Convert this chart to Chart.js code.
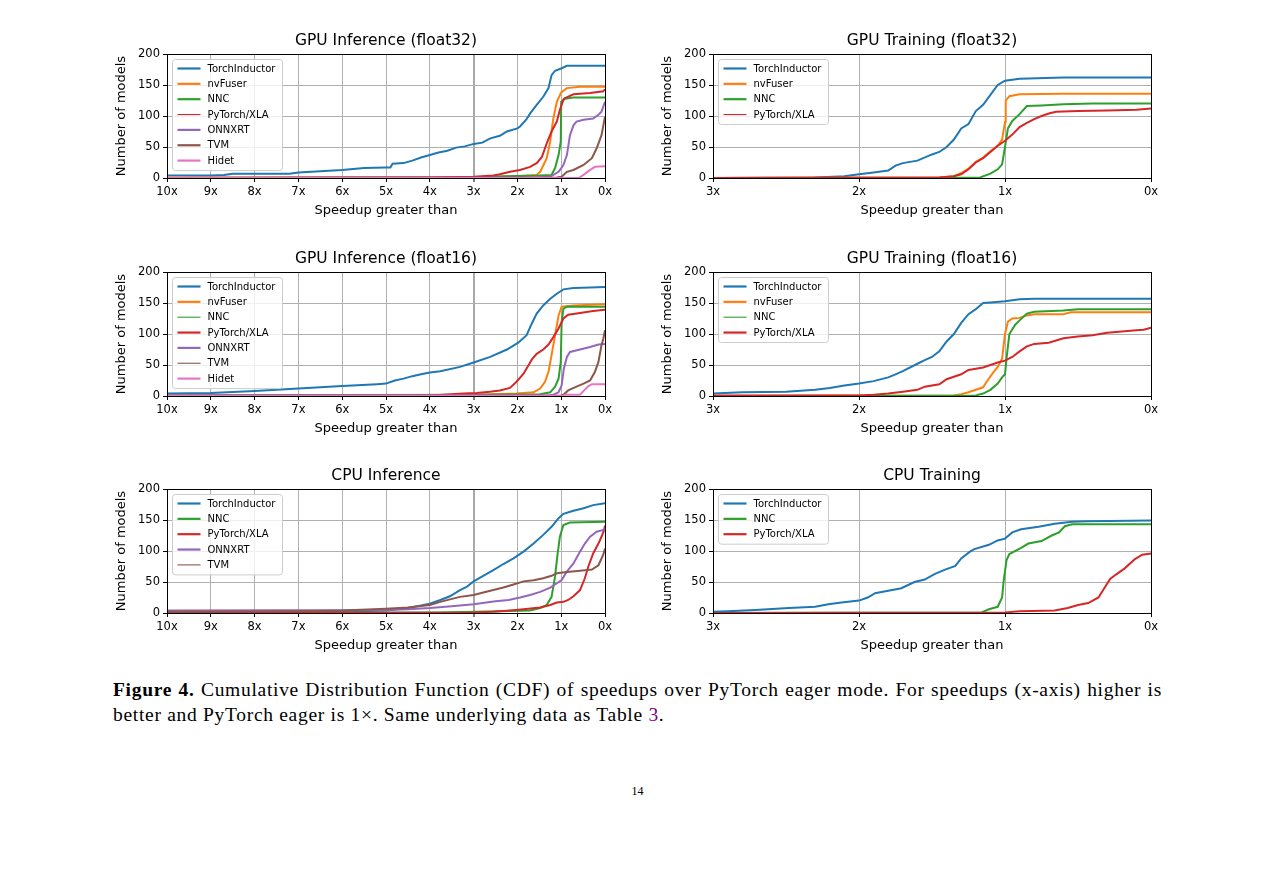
<!DOCTYPE html>
<html><head><meta charset="utf-8">
<script src="https://cdn.jsdelivr.net/npm/chart.js@4.4.0/dist/chart.umd.min.js"></script>
<style>
html,body{margin:0;padding:0;background:#fff;width:1275px;height:890px;overflow:hidden}
body{position:relative}
canvas{position:absolute}
#cap{position:absolute;left:113px;top:677px;width:1049px;font-family:'Liberation Serif','DejaVu Serif',serif;font-size:19.5px;letter-spacing:0.7px;line-height:25px;color:#000}
#cap .l1{text-align:justify;text-align-last:justify;white-space:nowrap;display:block}
#cap a{color:#800080;text-decoration:none}
#pg{position:absolute;left:0;width:1275px;top:784px;text-align:center;font-family:'Liberation Serif','DejaVu Serif',serif;font-size:12px;color:#000}
</style></head><body>
<canvas id="c1" width="520" height="195" style="left:100px;top:30px"></canvas>
<canvas id="c2" width="520" height="195" style="left:646px;top:30px"></canvas>
<canvas id="c3" width="520" height="195" style="left:100px;top:248px"></canvas>
<canvas id="c4" width="520" height="195" style="left:646px;top:248px"></canvas>
<canvas id="c5" width="520" height="195" style="left:100px;top:465px"></canvas>
<canvas id="c6" width="520" height="195" style="left:646px;top:465px"></canvas>
<div id="cap"><div class="l1"><b>Figure 4.</b> Cumulative Distribution Function (CDF) of speedups over PyTorch eager mode. For speedups (x-axis) higher is</div>better and PyTorch eager is 1×. Same underlying data as Table <a>3</a>.</div>
<div id="pg">14</div>
<script>
// ---- Data: [speedup, number of models] ----
// GPU Inference (float32)
const A_TorchInductor = [[10,4],[9,4],[8.7,5],[8.5,7],[7.2,7],[7.0,9],[6.5,11],[6.0,13],[5.5,16],[5.0,17],[4.9,17],[4.85,23],[4.6,24],[4.4,28],[4.2,33],[4.0,37],[3.8,41],[3.6,44],[3.4,49],[3.2,51],[3.0,55],[2.8,57],[2.62,64],[2.4,68],[2.24,75],[2.0,80],[1.94,83],[1.8,94],[1.7,105],[1.56,118],[1.41,131],[1.29,145],[1.22,166],[1.14,173],[0.99,177],[0.87,181],[0,181]];
const A_nvFuser = [[10,1],[3,1],[2.4,2],[2.0,3],[1.56,5],[1.48,10],[1.33,32],[1.25,59],[1.18,96],[1.10,123],[1.0,138],[0.87,145],[0.57,147],[0,147]];
const A_NNC = [[10,0],[3,1],[2.3,3],[1.5,4],[1.22,5],[1.14,16],[1.06,37],[1.01,59],[1.0,123],[0.91,128],[0.72,130],[0,130]];
const A_XLA = [[10,0],[4.0,1],[3.0,2],[2.55,4],[2.4,6],[2.17,10],[1.94,13],[1.71,18],[1.56,24],[1.44,34],[1.33,56],[1.22,75],[1.10,91],[1.03,110],[0.94,128],[0.72,135],[0.34,137],[0.04,140],[0,143]];
const A_ONNXRT = [[10,0],[1.6,1],[1.25,2],[1.06,10],[0.95,21],[0.87,37],[0.8,69],[0.72,85],[0.65,91],[0.49,94],[0.27,96],[0.15,102],[0.08,107],[0,123]];
const A_TVM = [[10,0],[1.1,1],[0.99,2],[0.87,10],[0.72,13],[0.49,21],[0.3,32],[0.19,48],[0.08,69],[0,99]];
const A_Hidet = [[10,0],[0.6,0],[0.49,5],[0.34,13],[0.23,18],[0,19]];
// GPU Training (float32)
const D_TorchInductor = [[3,0],[2.3,1],[2.1,3],[2.0,6],[1.9,9],[1.8,12],[1.75,20],[1.7,24],[1.6,28],[1.5,38],[1.45,42],[1.4,50],[1.35,62],[1.3,80],[1.25,87],[1.2,108],[1.15,118],[1.1,134],[1.05,150],[1.0,157],[0.9,160],[0.6,162],[0,162]];
const D_nvFuser = [[3,0],[1.45,1],[1.35,3],[1.3,8],[1.25,15],[1.2,26],[1.15,33],[1.1,43],[1.05,52],[1.02,62],[1.0,90],[0.995,125],[0.97,132],[0.9,135],[0.6,136],[0,136]];
const D_NNC = [[3,0],[1.17,1],[1.1,7],[1.05,14],[1.02,22],[1.0,50],[0.98,80],[0.95,92],[0.9,103],[0.85,116],[0.75,117],[0.6,119],[0.4,120],[0,120]];
const D_XLA = [[3,0],[1.45,1],[1.35,3],[1.3,6],[1.25,14],[1.2,25],[1.15,32],[1.1,42],[1.05,52],[1.0,60],[0.95,70],[0.9,82],[0.85,89],[0.8,95],[0.75,100],[0.7,104],[0.65,107],[0.5,108],[0.3,109],[0.1,110],[0,112]];
// GPU Inference (float16)
const B_TorchInductor = [[10,4],[9,5],[8,8],[7,12],[6,16],[5.2,19],[5.0,20],[4.8,25],[4.6,28],[4.4,32],[4.2,35],[4.0,38],[3.76,40],[3.31,47],[3.0,54],[2.62,63],[2.24,75],[1.98,86],[1.79,98],[1.67,117],[1.56,133],[1.41,146],[1.25,157],[1.10,165],[0.95,172],[0.72,174],[0.34,175],[0,176]];
const B_nvFuser = [[10,1],[3,2],[2.02,4],[1.63,6],[1.48,12],[1.37,23],[1.29,39],[1.22,66],[1.14,98],[1.06,130],[0.99,144],[0.72,146],[0,148]];
const B_NNC = [[10,1],[3,2],[1.48,3],[1.25,6],[1.14,15],[1.06,28],[1.01,55],[0.99,119],[0.95,141],[0.87,144],[0,144]];
const B_XLA = [[10,0],[4.0,1],[3.7,2],[3.24,4],[2.93,5],[2.63,7],[2.4,9],[2.17,13],[2.02,23],[1.86,36],[1.75,49],[1.67,59],[1.56,68],[1.41,75],[1.29,83],[1.18,95],[1.06,109],[0.95,125],[0.84,131],[0.57,134],[0.27,137],[0,139]];
const B_ONNXRT = [[10,1],[1.3,1],[1.18,2],[1.06,6],[0.99,17],[0.94,44],[0.87,63],[0.8,71],[0.57,75],[0.34,79],[0.15,83],[0,84]];
const B_TVM = [[10,0],[1.0,1],[0.95,2],[0.84,9],[0.65,15],[0.49,20],[0.34,25],[0.23,39],[0.15,55],[0.08,82],[0.04,92],[0,106]];
const B_Hidet = [[10,0],[0.95,1],[0.9,2],[0.57,2],[0.45,11],[0.38,16],[0.3,19],[0,19]];
// GPU Training (float16)
const E_TorchInductor = [[3,4],[2.8,6],[2.5,7],[2.3,10],[2.2,13],[2.1,17],[2.0,20],[1.9,24],[1.8,30],[1.75,35],[1.7,40],[1.6,52],[1.55,58],[1.5,63],[1.45,72],[1.4,88],[1.35,100],[1.3,118],[1.25,132],[1.2,140],[1.15,150],[1.1,151],[1.0,153],[0.9,156],[0.8,157],[0,157]];
const E_nvFuser = [[3,0],[1.35,1],[1.3,3],[1.25,6],[1.2,10],[1.15,14],[1.12,25],[1.08,38],[1.05,47],[1.02,60],[1.0,100],[0.98,120],[0.95,125],[0.9,126],[0.85,130],[0.8,132],[0.6,132],[0.55,135],[0,135]];
const E_NNC = [[3,0],[1.2,1],[1.15,4],[1.1,10],[1.05,20],[1.02,30],[1.0,35],[0.99,60],[0.97,100],[0.93,115],[0.9,122],[0.85,133],[0.8,136],[0.6,138],[0.5,140],[0,140]];
const E_XLA = [[3,1],[2.0,1],[1.9,2],[1.8,4],[1.7,7],[1.6,10],[1.55,15],[1.45,19],[1.4,27],[1.35,31],[1.3,35],[1.25,42],[1.2,44],[1.15,46],[1.1,50],[1.05,54],[1.0,57],[0.95,63],[0.9,72],[0.85,80],[0.8,84],[0.7,86],[0.6,93],[0.5,96],[0.4,98],[0.3,102],[0.2,104],[0.1,106],[0.05,107],[0,110]];
// CPU Inference
const C_TorchInductor = [[10,2],[6,2],[5,4],[4.5,8],[4.2,12],[4.0,15],[3.76,21],[3.54,27],[3.31,37],[3.16,42],[3.0,51],[2.78,60],[2.55,69],[2.32,79],[2.09,88],[1.86,99],[1.63,112],[1.41,126],[1.22,139],[1.06,153],[0.95,160],[0.72,165],[0.49,169],[0.27,174],[0,177]];
const C_NNC = [[10,0],[3.8,1],[2.93,2],[1.71,4],[1.48,8],[1.33,13],[1.22,26],[1.14,59],[1.09,91],[1.03,123],[0.95,142],[0.8,146],[0,147]];
const C_XLA = [[10,0],[3,1],[2.55,2],[2.17,4],[1.86,6],[1.48,9],[1.25,13],[1.10,17],[0.95,18],[0.84,21],[0.72,27],[0.57,37],[0.46,56],[0.38,75],[0.27,96],[0.15,112],[0.08,123],[0.02,134],[0,141]];
const C_ONNXRT = [[10,4],[5,5],[4.5,6],[4.0,8],[3.5,11],[3.0,14],[2.5,19],[2.2,21],[1.94,25],[1.71,29],[1.48,34],[1.25,41],[1.10,48],[0.99,53],[0.87,67],[0.72,80],[0.57,99],[0.46,112],[0.34,123],[0.19,131],[0.04,134],[0,136]];
const C_TVM = [[10,2],[7,3],[6,4],[5,7],[4.5,9],[4.0,13],[3.76,18],[3.54,22],[3.31,26],[3.0,29],[2.78,33],[2.55,37],[2.32,41],[2.09,46],[1.86,51],[1.63,53],[1.41,56],[1.22,60],[1.10,64],[0.87,66],[0.57,68],[0.3,70],[0.15,77],[0.04,94],[0,104]];
// CPU Training
const F_TorchInductor = [[3,2],[2.9,3],[2.71,5],[2.48,8],[2.3,10],[2.21,14],[2.12,17],[2.0,20],[1.94,25],[1.89,32],[1.8,36],[1.71,40],[1.62,50],[1.55,54],[1.48,63],[1.41,70],[1.34,76],[1.3,88],[1.24,99],[1.21,103],[1.11,110],[1.05,117],[1.0,120],[0.95,130],[0.89,135],[0.77,139],[0.66,144],[0.54,147],[0.43,148],[0,149]];
const F_NNC = [[3,0],[1.16,1],[1.11,6],[1.05,10],[1.02,25],[1.01,50],[0.99,85],[0.97,95],[0.89,105],[0.84,112],[0.75,116],[0.68,125],[0.63,130],[0.59,140],[0.54,143],[0,143]];
const F_XLA = [[3,0],[1.0,1],[0.9,3],[0.66,4],[0.57,8],[0.5,13],[0.43,16],[0.36,25],[0.32,40],[0.28,55],[0.24,62],[0.18,72],[0.11,87],[0.06,94],[0,96]];

const yTicks = [0,50,100,150,200];
const xTicksWide = [10,9,8,7,6,5,4,3,2,1,0];
const xTicksNarrow = [3,2,1,0];

const COLORS = {'TorchInductor':'#1f77b4','nvFuser':'#ff7f0e','NNC':'#2ca02c','PyTorch/XLA':'#d62728','ONNXRT':'#9467bd','TVM':'#8c564b','Hidet':'#e377c2'};

const panels = [
  {id:'c1', title:'GPU Inference (float32)', xmax:10, series:[['TorchInductor',A_TorchInductor],['nvFuser',A_nvFuser],['NNC',A_NNC],['PyTorch/XLA',A_XLA,true],['ONNXRT',A_ONNXRT],['TVM',A_TVM],['Hidet',A_Hidet]]},
  {id:'c2', title:'GPU Training (float32)', xmax:3, series:[['TorchInductor',D_TorchInductor],['nvFuser',D_nvFuser],['NNC',D_NNC],['PyTorch/XLA',D_XLA,true]]},
  {id:'c3', title:'GPU Inference (float16)', xmax:10, series:[['TorchInductor',B_TorchInductor],['nvFuser',B_nvFuser],['NNC',B_NNC,true],['PyTorch/XLA',B_XLA],['ONNXRT',B_ONNXRT],['TVM',B_TVM,true],['Hidet',B_Hidet]]},
  {id:'c4', title:'GPU Training (float16)', xmax:3, series:[['TorchInductor',E_TorchInductor],['nvFuser',E_nvFuser],['NNC',E_NNC,true],['PyTorch/XLA',E_XLA]]},
  {id:'c5', title:'CPU Inference', xmax:10, series:[['TorchInductor',C_TorchInductor],['NNC',C_NNC],['PyTorch/XLA',C_XLA],['ONNXRT',C_ONNXRT],['TVM',C_TVM,true]]},
  {id:'c6', title:'CPU Training', xmax:3, series:[['TorchInductor',F_TorchInductor],['NNC',F_NNC],['PyTorch/XLA',F_XLA]]}
];

Chart.defaults.font.family = "'DejaVu Sans', sans-serif";
Chart.defaults.color = '#000';

const frameAndLegend = {
  id:'frameAndLegend',
  afterDraw(chart){
    const {ctx, chartArea:a} = chart;
    ctx.save();
    ctx.strokeStyle = '#000'; ctx.lineWidth = 1;
    const L = Math.round(a.left)+0.5, T = Math.round(a.top)+0.5, R = Math.round(a.right)+0.5, B = Math.round(a.bottom)+0.5;
    ctx.strokeRect(L, T, R-L, B-T);
    const ds = chart.data.datasets;
    const step = 15.35;
    const bx = L + 5, by = T + 5, bw = 110, bh = 9 + (ds.length-1)*step + 10;
    ctx.beginPath();
    if (ctx.roundRect) ctx.roundRect(bx, by, bw, bh, 3); else ctx.rect(bx, by, bw, bh);
    ctx.fillStyle = 'rgba(255,255,255,0.8)';
    ctx.fill();
    ctx.strokeStyle = '#cccccc'; ctx.lineWidth = 1;
    ctx.stroke();
    ctx.font = "10px 'DejaVu Sans', sans-serif";
    ctx.textBaseline = 'middle';
    ctx.fillStyle = '#000';
    ds.forEach((d, i) => {
      const cy = by + 9 + i*step;
      ctx.beginPath();
      ctx.strokeStyle = d.borderColor;
      ctx.lineWidth = d.legendWidth;
      ctx.moveTo(bx+5, cy); ctx.lineTo(bx+28, cy);
      ctx.stroke();
      ctx.fillText(d.label, bx+35, cy+0.5);
    });
    ctx.restore();
  }
};

panels.forEach(p => {
  const xt = p.xmax === 10 ? xTicksWide : xTicksNarrow;
  const datasets = p.series.map((s, i) => ({
    label: s[0],
    data: s[1].map(v => ({x: v[0], y: v[1]})),
    borderColor: COLORS[s[0]],
    backgroundColor: COLORS[s[0]],
    borderWidth: 2,
    legendWidth: s[2] ? 1.1 : 2.2,
    pointRadius: 0,
    tension: 0,
    fill: false,
    order: -i
  }));
  new Chart(document.getElementById(p.id), {
    type: 'line',
    data: {datasets},
    plugins: [frameAndLegend],
    options: {
      responsive: false,
      animation: false,
      events: [],
      layout: {padding: {left:0, right:15, top:0, bottom:0}},
      plugins: {
        legend: {display:false},
        tooltip: {enabled:false},
        title: {display:true, text:p.title, color:'#000', fullSize:false,
          font:{size:15.5, weight:'normal', family:"'DejaVu Sans', sans-serif"}, padding:{top:2, bottom:3.4}}
      },
      scales: {
        x: {
          type:'linear', reverse:true, min:0, max:p.xmax,
          afterBuildTicks: sc => { sc.ticks = xt.map(v => ({value:v})); },
          afterFit: sc => { sc.height = 47; },
          ticks: {font:{size:11.5}, color:'#000', maxRotation:0, autoSkip:false, padding:3, callback: v => v + 'x'},
          grid: {color: c => (p.xmax===10 && c.tick && c.tick.value===3) ? '#a8a8a8' : '#b0b0b0',
                 lineWidth: c => (p.xmax===10 && c.tick && c.tick.value===3) ? 2 : 1,
                 tickColor:'#000', tickLength:4, tickWidth:1, drawOnChartArea:true},
          border: {display:false},
          title: {display:true, text:'Speedup greater than', color:'#000', font:{size:13}, padding:{top:0, bottom:7}}
        },
        y: {
          type:'linear', min:0, max:200,
          afterBuildTicks: sc => { sc.ticks = yTicks.map(v => ({value:v})); },
          afterFit: sc => { sc.width = 67; },
          ticks: {font:{size:11.5}, color:'#000', padding:3},
          grid: {color:'#b0b0b0', lineWidth:1, tickColor:'#000', tickLength:4, tickWidth:1},
          border: {display:false},
          title: {display:true, text:'Number of models', color:'#000', font:{size:13}, padding:{top:14, bottom:0}}
        }
      }
    }
  });
});
</script>
</body></html>
